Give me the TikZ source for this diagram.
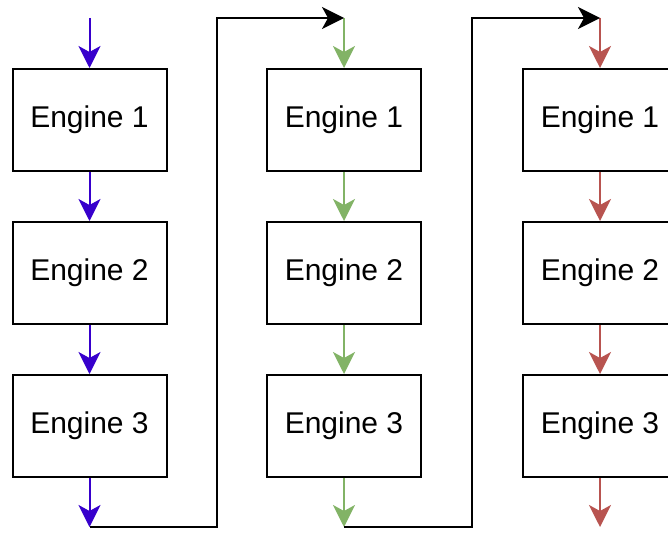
\documentclass[tikz,border=0pt]{standalone}
\usepackage{fontspec}
\setmainfont{Liberation Sans}
\usetikzlibrary{arrows.meta}
\definecolor{flowblue}{HTML}{3700CC}
\definecolor{flowgreen}{HTML}{82B366}
\definecolor{flowred}{HTML}{B85450}
\begin{document}
\begin{tikzpicture}[x=1pt,y=-1pt,
  engine/.style={draw=black,line width=2pt,fill=white,minimum width=154pt,
    minimum height=102pt,inner sep=0pt,font=\fontsize{30}{35}\selectfont},
  tip/.style={-{Stealth[length=22pt,width=22pt,inset=6pt]}},
  flow/.style={line width=2pt,tip},
  link/.style={line width=2pt,draw=black,tip}]
\useasboundingbox (0,0) rectangle (668,532);

% three columns of engines
\foreach \c/\x in {1/89.5,2/344,3/600}{
  \node[engine] (e\c1) at (\x,120) {Engine 1};
  \node[engine] (e\c2) at (\x,273) {Engine 2};
  \node[engine] (e\c3) at (\x,426) {Engine 3};
  \coordinate (in\c) at (\x,18);
  \coordinate (out\c) at (\x,527);
}
\coordinate (r1) at (217,527);
\coordinate (r2) at (472,527);

% flow within each column
\foreach \c/\col in {1/flowblue,2/flowgreen,3/flowred}{
  \draw[flow,draw=\col] (in\c) -- (e\c1.north);
  \draw[flow,draw=\col] (e\c1.south) -- (e\c2.north);
  \draw[flow,draw=\col] (e\c2.south) -- (e\c3.north);
  \draw[flow,draw=\col] (e\c3.south) -- (out\c);
}

% hand-over from one column to the next
\draw[link] (out1) -- (r1) |- (in2);
\draw[link] (out2) -- (r2) |- (in3);
\end{tikzpicture}
\end{document}
